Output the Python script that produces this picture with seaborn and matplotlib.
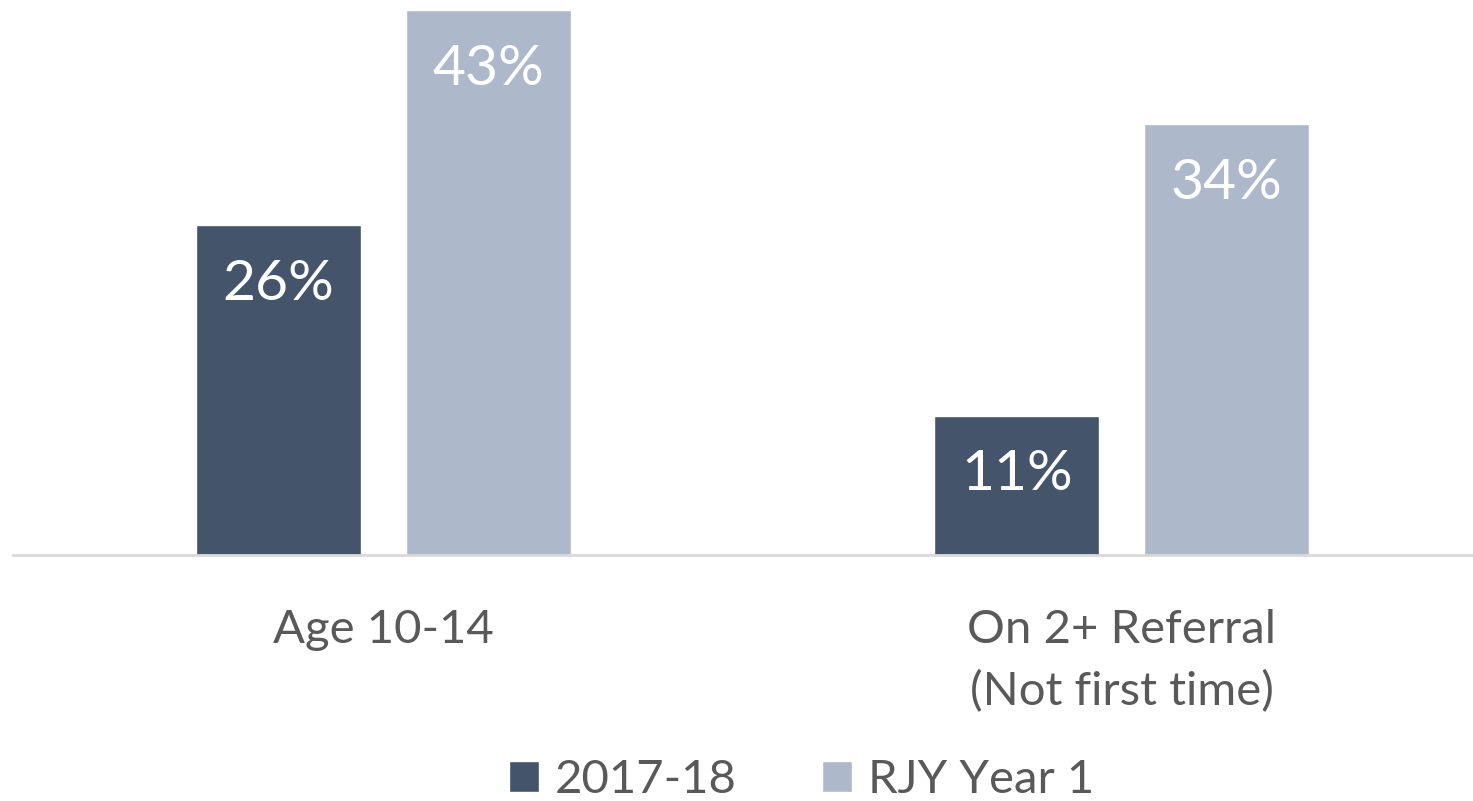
import matplotlib
matplotlib.use('Agg')
import matplotlib.pyplot as plt
import seaborn as sns
import pandas as pd

categories = ['Age 10-14', 'On 2+ Referral\n(Not first time)']
series = ['2017-18', 'RJY Year 1']
values_2017 = [26, 11]
values_rjy = [43, 34]
colors = ['#44546A', '#ADB9CA']

sns.set_theme(style='white')
plt.rcParams['font.family'] = ['Lato', 'DejaVu Sans']

# long format table for seaborn
data = pd.DataFrame({
    'Category': categories * 2,
    'Series': [series[0]] * 2 + [series[1]] * 2,
    'Value': values_2017 + values_rjy,
})

fig = plt.figure(figsize=(14.73, 8.01), dpi=100)
ax = fig.add_axes([13 / 1473, 246 / 801, 1460 / 1473, 555 / 801])

sns.barplot(data=data, x='Category', y='Value', hue='Series', palette=colors,
            width=0.569, gap=0.214, saturation=1, ax=ax)

# white value labels inside the bars
for container in ax.containers:
    for bar in container:
        h = bar.get_height()
        ax.text(bar.get_x() + bar.get_width() / 2, h - 5.9, f'{h:.0f}%',
                ha='center', va='baseline', color='white', fontsize=41)

ax.set_xlim(-0.502, 1.476)
ax.set_ylim(0, 43.79)
ax.set_xlabel('')
ax.set_ylabel('')
ax.set_yticks([])
for s in ['top', 'right', 'left']:
    ax.spines[s].set_visible(False)
ax.spines['bottom'].set_color('#D9D9D9')
ax.spines['bottom'].set_linewidth(2)
ax.tick_params(axis='x', length=0, pad=39, labelsize=34, labelcolor='#595959')
for lbl in ax.get_xticklabels():
    lbl.set_linespacing(1.55)

sns.move_legend(ax, 'center', bbox_to_anchor=(0.54, -0.405), ncol=2,
                frameon=False, title=None, fontsize=34, handlelength=0.64,
                handleheight=0.64, handletextpad=0.34, columnspacing=1.8,
                labelcolor='#595959')

fig.savefig('out.png', dpi=100)
